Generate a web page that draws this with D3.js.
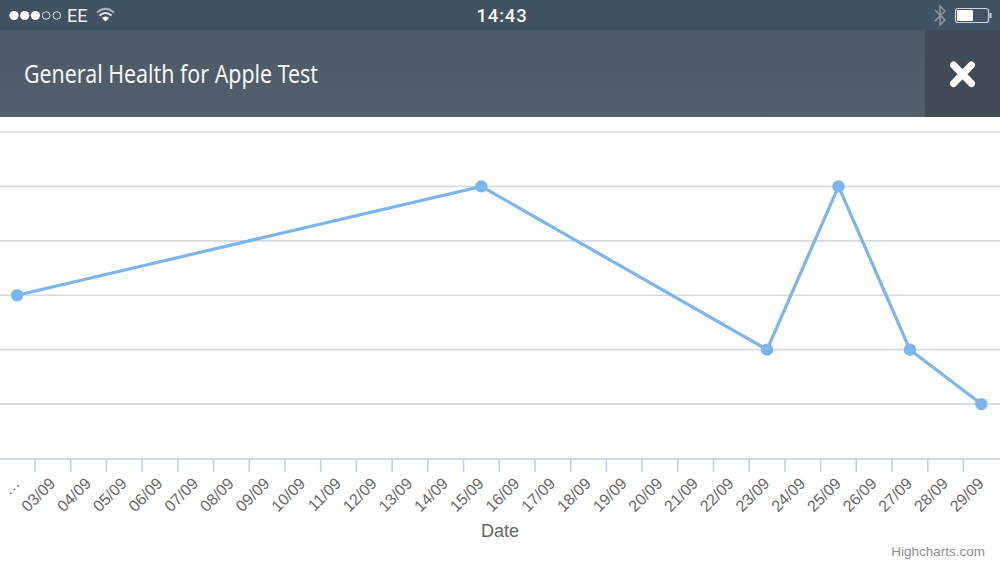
<!DOCTYPE html>
<html><head><meta charset="utf-8">
<script src="https://cdnjs.cloudflare.com/ajax/libs/d3/7.8.5/d3.min.js"></script>
<style>html,body{margin:0;padding:0;background:#fff;overflow:hidden}svg{display:block}</style>
</head><body><svg id="c" width="1000" height="563"></svg>
<script>
const categories = ["…","03/09","04/09","05/09","06/09","07/09","08/09","09/09","10/09","11/09","12/09","13/09","14/09","15/09","16/09","17/09","18/09","19/09","20/09","21/09","22/09","23/09","24/09","25/09","26/09","27/09","28/09","29/09"];
const pointDates = ["…","15/09","23/09","25/09","27/09","29/09"];
const pointValues = [3,5,2,5,2,1];
const yTicks = [1,2,3,4,5,6];
const titleText = "General Health for Apple Test";
const xTitle = "Date";
const credit = "Highcharts.com";

const svg = d3.select("#c");
const ui = "Roboto, 'Noto Sans', sans-serif";
const chartFont = "'Liberation Sans', Arial, sans-serif";

// chart
const x = d3.scaleBand().domain(categories).range([-0.7, 999.2]);
const y = d3.scaleLinear().domain([0,6]).range([458.5,132]);

svg.append("g").selectAll("line").data(yTicks).join("line")
  .attr("x1",0).attr("x2",1000).attr("y1",d=>y(d)).attr("y2",d=>y(d))
  .attr("stroke","#d6dadd").attr("stroke-width",1.6);

const axis = d3.axisBottom(x).tickSizeOuter(0).tickSize(0);
const ag = svg.append("g").attr("transform","translate(0,459)").call(axis);
ag.select(".domain").remove();
ag.append("line").attr("x1",0).attr("x2",1000).attr("stroke","#c0d0e0").attr("stroke-width",1.6);
ag.selectAll(".tick line").remove();
ag.selectAll(".tick text")
  .attr("font-family",chartFont).attr("font-size",16).attr("fill","#666")
  .attr("text-anchor","end")
  .attr("transform","translate(-5,17) rotate(-45)")
  .attr("x",0).attr("y",0).attr("dy","0.75em");
ag.append("g").selectAll("line").data(categories.slice(1)).join("line")
  .attr("x1",d=>x(d)).attr("x2",d=>x(d)).attr("y1",0).attr("y2",13)
  .attr("stroke","#c0d0e0").attr("stroke-width",1.6);

const pts = pointDates.map((d,i)=>({d,v:pointValues[i]}));
const line = d3.line().x(p=>x(p.d)+x.bandwidth()/2).y(p=>y(p.v));
svg.append("path").attr("d",line(pts)).attr("fill","none").attr("stroke","#7cb5ec").attr("stroke-width",3.2);
svg.append("g").selectAll("circle").data(pts).join("circle")
  .attr("cx",p=>x(p.d)+x.bandwidth()/2).attr("cy",p=>y(p.v)).attr("r",6.2).attr("fill","#7cb5ec");

svg.append("text").attr("x",500).attr("y",537).attr("text-anchor","middle")
  .attr("font-family",chartFont).attr("font-size",18).attr("fill","#666").text(xTitle);
svg.append("text").attr("x",985).attr("y",556).attr("text-anchor","end")
  .attr("font-family",chartFont).attr("font-size",13.5).attr("fill","#909090").text(credit);

// header
const grad = svg.append("defs").append("linearGradient").attr("id","h").attr("x1",0).attr("x2",0).attr("y1",0).attr("y2",1);
grad.append("stop").attr("offset",0).attr("stop-color","#4c5a68");
grad.append("stop").attr("offset",1).attr("stop-color","#525f6d");
svg.append("rect").attr("width",1000).attr("height",30).attr("fill","#415362");
svg.append("rect").attr("y",30).attr("width",1000).attr("height",87).attr("fill","url(#h)");
svg.append("rect").attr("x",925).attr("y",30).attr("width",75).attr("height",87).attr("fill","#404b57");
svg.append("text").attr("x",24).attr("y",83).attr("font-family","'Noto Sans', sans-serif").attr("font-size",24.5).attr("fill","#f4f6f7")
  .attr("textLength",294).attr("lengthAdjust","spacingAndGlyphs").text(titleText);
svg.append("path").attr("d","M953.5 65L971.5 83.5M971.5 65L953.5 83.5").attr("stroke","#fff").attr("stroke-width",7).attr("stroke-linecap","round");

// status bar
[0,1,2,3,4].forEach(i=>{
  svg.append("circle").attr("cx",14+i*10.7).attr("cy",15.5).attr("r",i<3?4.6:3.8)
    .attr("fill",i<3?"#fff":"none").attr("stroke",i<3?"none":"#dfe3e6").attr("stroke-width",1);
});
svg.append("text").attr("x",67).attr("y",22).attr("font-family",ui).attr("font-size",18).attr("fill","#eef1f3").text("EE");
svg.append("path").attr("d","M97 12.5Q105.5 5 114 12.5").attr("fill","none").attr("stroke","#aeb6bd").attr("stroke-width",1.7);
svg.append("path").attr("d","M99.5 15.5Q105.5 10.5 111.5 15.5").attr("fill","none").attr("stroke","#e8ebed").attr("stroke-width",2);
svg.append("path").attr("d","M102 18Q105.5 15 109 18L105.5 21.5Z").attr("fill","#fff");
svg.append("text").attr("x",502).attr("y",21.5).attr("text-anchor","middle").attr("font-family",ui).attr("font-size",18.5).attr("font-weight",500).attr("letter-spacing",0.8).attr("fill","#f4f6f7").text("14:43");
svg.append("path").attr("d","M935 10L945 20L940 25V6L945 11L935 21").attr("fill","none").attr("stroke","#8f9aa4").attr("stroke-width",1.5);
svg.append("rect").attr("x",955.5).attr("y",8.5).attr("width",33).attr("height",14).attr("rx",2.5).attr("fill","none").attr("stroke","#cfd5da").attr("stroke-width",1.2);
svg.append("rect").attr("x",957).attr("y",10).attr("width",16).attr("height",11).attr("rx",1).attr("fill","#fff");
svg.append("rect").attr("x",989.5).attr("y",13).attr("width",2).attr("height",5).attr("fill","#cfd5da");
</script></body></html>
